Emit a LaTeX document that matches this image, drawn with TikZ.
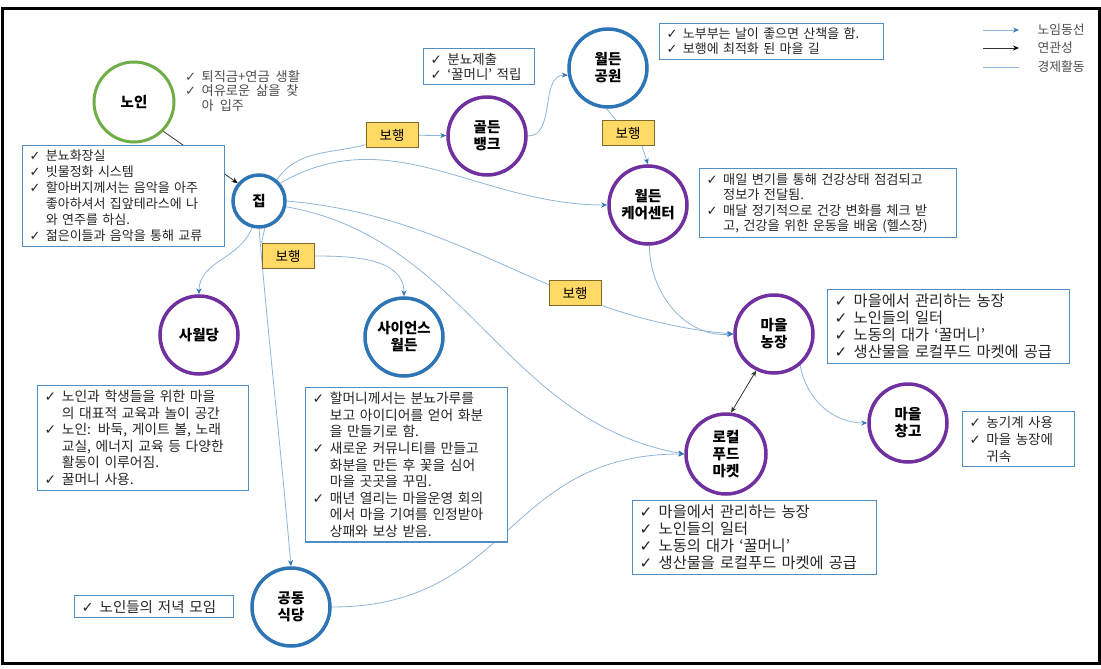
\documentclass[tikz,border=0pt]{standalone}
\usepackage{fontspec}
\setmainfont{Noto Sans CJK KR}[WordSpace=2.0]
\newfontfamily\chkfont{DejaVu Sans}
\usepackage{xcolor}
\usetikzlibrary{arrows.meta,backgrounds}

\definecolor{nodeblue}{HTML}{2E75B6}
\definecolor{nodepurple}{HTML}{7030A0}
\definecolor{nodegreen}{HTML}{70AD47}
\definecolor{boxblue}{HTML}{4F8DC4}
\definecolor{flowline}{HTML}{8FB4D6}
\definecolor{arrowblue}{HTML}{2E75B6}
\definecolor{walkfill}{HTML}{FFD966}
\definecolor{walkdraw}{HTML}{7F6A2E}
\definecolor{txtgray}{HTML}{262626}
\definecolor{notegray}{HTML}{4D4D4D}

\newcommand{\ck}{\makebox[1.25em][l]{\chkfont ✓}}
\newcommand{\itm}[1]{\mbox{\ck #1}}
\newcommand{\nxt}[1]{\mbox{\hspace*{1.25em}#1}}

\begin{document}
\begin{tikzpicture}[x=1pt,y=1pt,
  place/.style={circle, line width=3.5pt, fill=white, minimum size=78pt, inner sep=0pt, align=center, font=\fontsize{14.5}{17}\selectfont\bfseries},
  bluep/.style={place, draw=nodeblue},
  purplep/.style={place, draw=nodepurple},
  walk/.style={draw=walkdraw, line width=1pt, fill=walkfill, minimum width=52pt, minimum height=25pt, inner sep=0pt, font=\fontsize{13.5}{15}\selectfont},
  note/.style={draw=boxblue, line width=1.2pt, fill=white, anchor=north west, align=left, inner xsep=7pt, inner ysep=4.5pt, text=txtgray},
  flow/.style={draw=flowline, line width=0.8pt, -{Stealth[length=6pt,width=5pt,color=arrowblue]}},
  trail/.style={draw=flowline, line width=0.8pt},
  rel/.style={draw=black!80, line width=0.8pt, -{Stealth[length=6pt,width=5pt,color=black]}},
]
\useasboundingbox (0,0) rectangle (1101,-669);
\draw[line width=3pt] (2.5,-8.7) rectangle (1099,-663.7);

\node[place, draw=nodegreen, line width=3pt, minimum size=80pt] (noin) at (134,-102) {노인};
\node[bluep, minimum size=52pt] (jip) at (259,-201) {집};
\node[purplep] (bank) at (487,-136) {골든\\뱅크};
\node[bluep] (park) at (608,-68) {월든\\공원};
\node[purplep] (care) at (648,-205) {월든\\케어센터};
\node[purplep] (sawol) at (199,-335) {사월당};
\node[bluep] (science) at (404,-337) {사이언스\\월든};
\node[purplep] (farm) at (774,-334) {마을\\농장};
\node[purplep, minimum size=80pt] (market) at (726,-454) {로컬\\푸드\\마켓};
\node[purplep] (store) at (908,-423) {마을\\창고};
\node[bluep] (canteen) at (291,-607) {공동\\식당};

\node[walk] (walk1) at (392,-135) {보행};
\node[walk] (walk2) at (628,-133) {보행};
\node[walk] (walk3) at (288,-256) {보행};
\node[walk] (walk4) at (575,-293) {보행};

\node[anchor=north west, align=left, text=notegray, inner sep=0pt, font=\fontsize{13.2}{14.5}\selectfont] (noinnote) at (185,-70)
  {\itm{퇴직금+연금 생활}\\ \itm{여유로운 삶을 찾}\\ \nxt{아 입주}};
\node[note, text width=188pt, font=\fontsize{13}{16}\selectfont] (jipnote) at (22,-145)
  {\itm{분뇨화장실}\\ \itm{빗물정화 시스템}\\ \itm{할아버지께서는 음악을 아주}\\ \nxt{좋아하셔서 집앞테라스에 나}\\ \nxt{와 연주를 하심.}\\ \itm{젊은이들과 음악을 통해 교류}};
\node[note, text width=97pt, font=\fontsize{13.5}{15}\selectfont] (banknote) at (423,-48)
  {\itm{분뇨제출}\\ \itm{‘꿀머니’ 적립}};
\node[note, text width=210pt, font=\fontsize{13}{15}\selectfont] (parknote) at (659,-23)
  {\itm{노부부는 날이 좋으면 산책을 함.}\\ \itm{보행에 최적화 된 마을 길}};
\node[note, text width=243pt, font=\fontsize{13.2}{15.5}\selectfont] (carenote) at (699,-168)
  {\itm{매일 변기를 통해 건강상태 점검되고}\\ \nxt{정보가 전달됨.}\\ \itm{매달 정기적으로 건강 변화를 체크 받}\\ \nxt{고, 건강을 위한 운동을 배움 (헬스장)}};
\node[note, text width=228pt, font=\fontsize{15.3}{17}\selectfont] (farmnote) at (827,-289)
  {\itm{마을에서 관리하는 농장}\\ \itm{노인들의 일터}\\ \itm{노동의 대가 ‘꿀머니’}\\ \itm{생산물을 로컬푸드 마켓에 공급}};
\node[note, text width=98pt, font=\fontsize{13.5}{17}\selectfont] (storenote) at (962,-411)
  {\itm{농기계 사용}\\ \itm{마을 농장에}\\ \nxt{귀속}};
\node[note, text width=230pt, font=\fontsize{15.3}{17}\selectfont] (marketnote) at (632,-500)
  {\itm{마을에서 관리하는 농장}\\ \itm{노인들의 일터}\\ \itm{노동의 대가 ‘꿀머니’}\\ \itm{생산물을 로컬푸드 마켓에 공급}};
\node[note, text width=197pt, font=\fontsize{13.8}{16.6}\selectfont] (sawolnote) at (37,-385)
  {\itm{노인과 학생들을 위한 마을}\\ \nxt{의 대표적 교육과 놀이 공간}\\ \itm{노인: 바둑, 게이트 볼, 노래}\\ \nxt{교실, 에너지 교육 등 다양한}\\ \nxt{활동이 이루어짐.}\\ \itm{꿀머니 사용.}};
\node[note, text width=188pt, font=\fontsize{13.8}{16.6}\selectfont] (sciencenote) at (305,-387)
  {\itm{할머니께서는 분뇨가루를}\\ \nxt{보고 아이디어를 얻어 화분}\\ \nxt{을 만들기로 함.}\\ \itm{새로운 커뮤니티를 만들고}\\ \nxt{화분을 만든 후 꽃을 심어}\\ \nxt{마을 곳곳을 꾸밈.}\\ \itm{매년 열리는 마을운영 회의}\\ \nxt{에서 마을 기여를 인정받아}\\ \nxt{상패와 보상 받음.}};
\node[note, text width=145pt, font=\fontsize{14.5}{16}\selectfont] (canteennote) at (74,-595)
  {\itm{노인들의 저녁 모임}};

\coordinate (lga1) at (983,-30);
\coordinate (lga2) at (1019,-30);
\coordinate (lgb1) at (983,-48);
\coordinate (lgb2) at (1019,-48);
\coordinate (lgc1) at (983,-67);
\coordinate (lgc2) at (1019,-67);
\draw[flow] (lga1) -- (lga2);
\draw[rel] (lgb1) -- (lgb2);
\draw[trail] (lgc1) -- (lgc2);
\node[anchor=west, text=notegray, font=\fontsize{12.8}{14}\selectfont] (lgta) at (1034,-30) {노임동선};
\node[anchor=west, text=notegray, font=\fontsize{12.8}{14}\selectfont] (lgtb) at (1034,-48) {연관성};
\node[anchor=west, text=notegray, font=\fontsize{12.8}{14}\selectfont] (lgtc) at (1034,-67) {경제활동};

\begin{scope}[on background layer]
\draw[rel] (noin.-45) -- (jip.140);
\draw[trail] (jip.50) to[out=55,in=195] (walk1.200);
\draw[flow] (walk1) -- (bank);
\draw[flow] (bank.east) to[out=0,in=180] (park.190);
\draw[trail] (park.-92) -- ([xshift=-12pt]walk2.north);
\draw[flow] ([xshift=14pt]walk2.south) -- (care.north);
\draw[flow] (jip.40) to[out=30,in=180] (care.west);
\draw[flow] (jip.east) to[out=-5,in=175] (farm.west);
\draw[flow] (care.-88) to[out=-90,in=185] (farm.west);
\draw[flow] (jip.-12) to[out=-10,in=170] (market.west);
\draw[flow] (canteen.east) to[out=0,in=180,looseness=1.2] (market.west);
\draw[flow] (jip.-105) to[out=-110,in=90] (sawol.north);
\draw[trail] (jip.-78) -- (walk3.north west);
\draw[flow] (walk3.east) to[out=0,in=90] (science.north);
\draw[flow] (jip.-90) to[out=-85,in=95] (canteen.north);
\draw[flow] (farm.-50) to[out=-80,in=180] (store.west);
\draw[black!80, line width=0.8pt, {Stealth[length=6pt,width=5pt]}-{Stealth[length=6pt,width=5pt]}] (farm.-116) -- (market.83);
\end{scope}
\end{tikzpicture}
\end{document}
